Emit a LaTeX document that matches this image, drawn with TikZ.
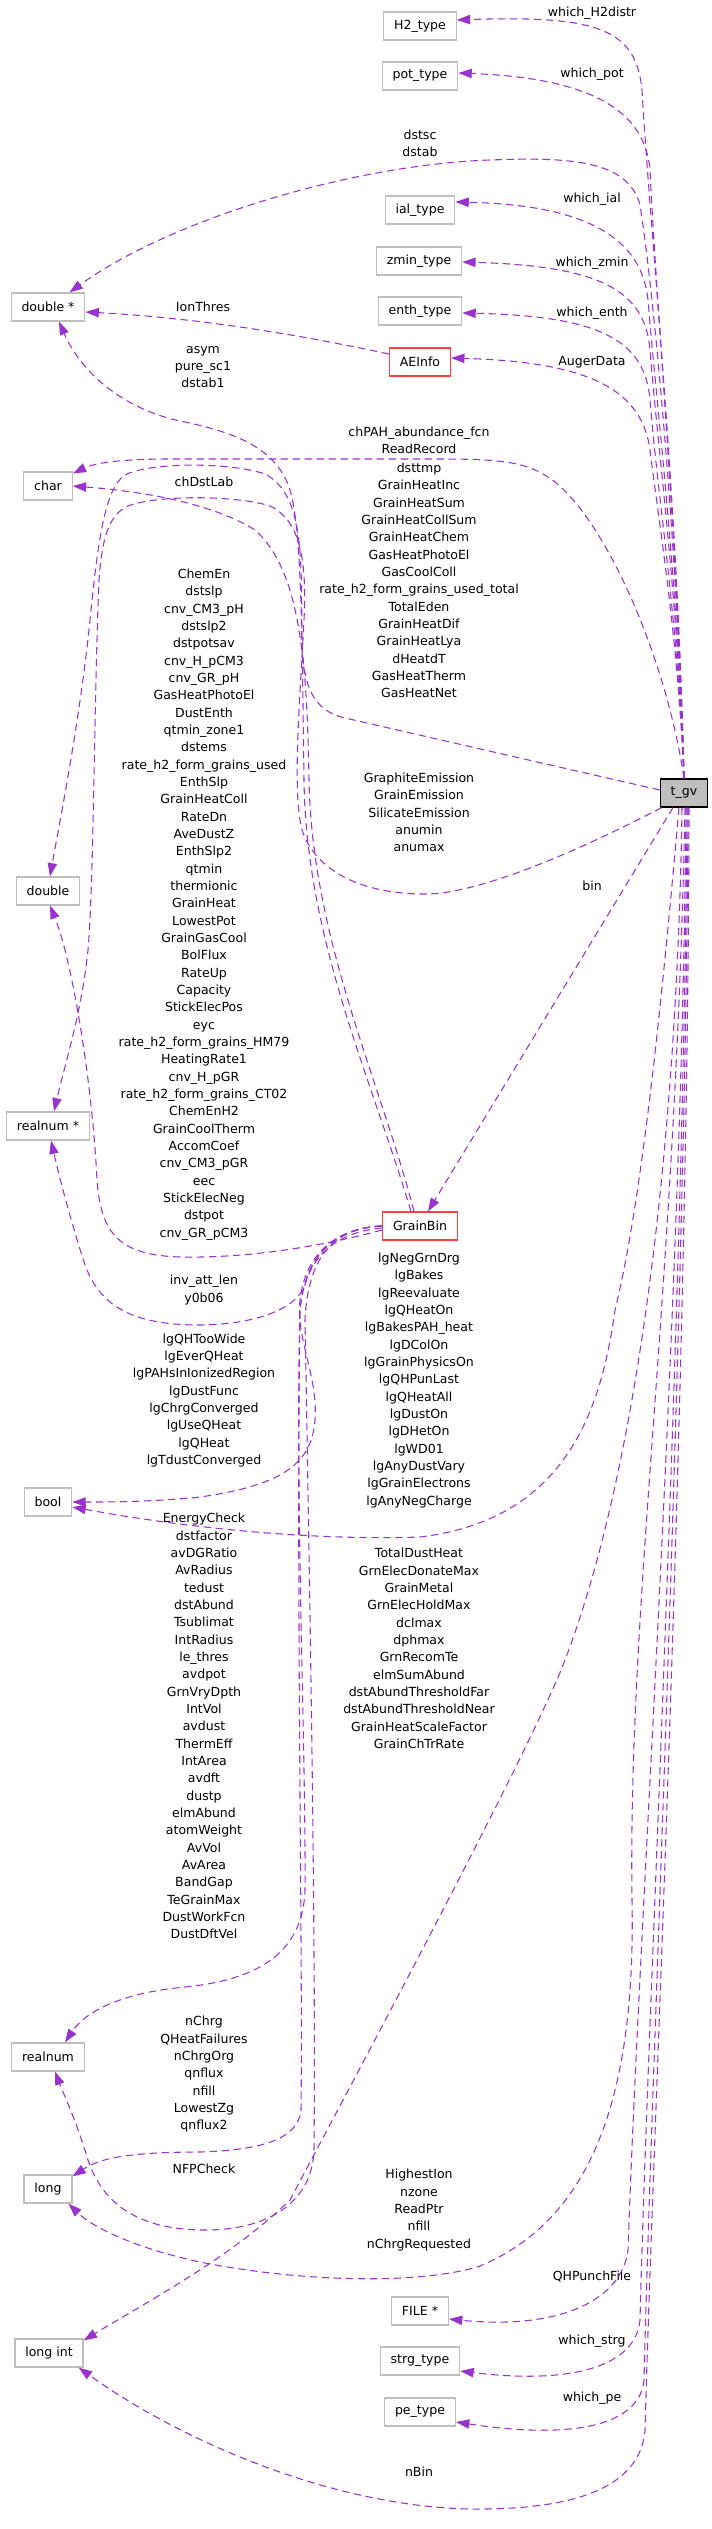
\documentclass[tikz,border=0pt]{standalone}
\usepackage{fontspec}
\setmainfont{DejaVu Sans}
\usetikzlibrary{arrows.meta,calc}
\definecolor{edgec}{HTML}{9A32CD}
\definecolor{boxgray}{HTML}{BFBFBF}
\definecolor{redc}{HTML}{FF3F3F}
\begin{document}
\begin{tikzpicture}[x=0.75pt,y=-0.75pt,
  box/.style={draw=boxgray,line width=0.9pt,minimum height=21pt,inner xsep=7.8pt,inner ysep=0pt,font=\fontsize{9.4}{13}\selectfont,fill=white},
  redbox/.style={box,draw=redc},
  mainbox/.style={box,draw=black,fill=boxgray},
  lab/.style={align=center,inner sep=0pt,font=\fontsize{9.4}{13}\selectfont},
  e/.style={draw=edgec,line width=0.8pt,dash pattern=on 5.5pt off 3.5pt,-{Triangle[length=10pt,width=7pt]}}
]
\fill[white] (0,0) rectangle (712,2529);
\useasboundingbox (0,0) rectangle (712,2529);

% ---------- nodes ----------
\node[box] (h2) at (420,26) {H2\_type};
\node[box] (pot) at (420,76) {pot\_type};
\node[box] (ial) at (420,210) {ial\_type};
\node[box] (zmin) at (419,261) {zmin\_type};
\node[box] (enth) at (420,311) {enth\_type};
\node[redbox] (ae) at (420,362) {AEInfo};
\node[box] (dstar) at (48,307) {double *};
\node[box] (char) at (48,486) {char};
\node[box] (dbl) at (48,891) {double};
\node[box] (rstar) at (48,1126) {realnum *};
\node[mainbox] (tgv) at (684,793) {t\_gv};
\node[redbox] (gb) at (420,1226) {GrainBin};
\node[box] (bool) at (48,1502) {bool};
\node[box] (rl) at (48,2057) {realnum};
\node[box] (lg) at (48,2189) {long};
\node[box] (li) at (49,2353) {long int};
\node[box] (file) at (420,2311) {FILE *};
\node[box] (strg) at (420,2361) {strg\_type};
\node[box] (pe) at (420,2412) {pe\_type};

% ---------- labels ----------
\node[lab] (lh2) at (592,13) {which\_H2distr};
\node[lab] (lpot) at (592,74) {which\_pot};
\node[lab] (ldstsc) at (420,143.5) {dstsc\\dstab};
\node[lab] (lial) at (592,199) {which\_ial};
\node[lab] (lzmin) at (592,263) {which\_zmin};
\node[lab] (lenth) at (592,313) {which\_enth};
\node[lab] (lauger) at (592,362) {AugerData};
\node[lab] (lion) at (203,307) {IonThres};
\node[lab] (lasym) at (203,367) {asym\\pure\_sc1\\dstab1};
\node[lab] (lchpah) at (419,440.5) {chPAH\_abundance\_fcn\\ReadRecord};
\node[lab] (lchdst) at (204,482) {chDstLab};
\node[lab] (ldsttmp) at (419,580.5) {dsttmp\\GrainHeatInc\\GrainHeatSum\\GrainHeatCollSum\\GrainHeatChem\\GasHeatPhotoEl\\GasCoolColl\\rate\_h2\_form\_grains\_used\_total\\TotalEden\\GrainHeatDif\\GrainHeatLya\\dHeatdT\\GasHeatTherm\\GasHeatNet};
\node[lab] (lchemen) at (204,904.5) {ChemEn\\dstslp\\cnv\_CM3\_pH\\dstslp2\\dstpotsav\\cnv\_H\_pCM3\\cnv\_GR\_pH\\GasHeatPhotoEl\\DustEnth\\qtmin\_zone1\\dstems\\rate\_h2\_form\_grains\_used\\EnthSlp\\GrainHeatColl\\RateDn\\AveDustZ\\EnthSlp2\\qtmin\\thermionic\\GrainHeat\\LowestPot\\GrainGasCool\\BolFlux\\RateUp\\Capacity\\StickElecPos\\eyc\\rate\_h2\_form\_grains\_HM79\\HeatingRate1\\cnv\_H\_pGR\\rate\_h2\_form\_grains\_CT02\\ChemEnH2\\GrainCoolTherm\\AccomCoef\\cnv\_CM3\_pGR\\eec\\StickElecNeg\\dstpot\\cnv\_GR\_pCM3};
\node[lab] (lgraph) at (419,812.5) {GraphiteEmission\\GrainEmission\\SilicateEmission\\anumin\\anumax};
\node[lab] (lbin) at (592,886) {bin};
\node[lab] (linv) at (204,1290) {inv\_att\_len\\y0b06};
\node[lab] (llgneg) at (419,1380.5) {lgNegGrnDrg\\lgBakes\\lgReevaluate\\lgQHeatOn\\lgBakesPAH\_heat\\lgDColOn\\lgGrainPhysicsOn\\lgQHPunLast\\lgQHeatAll\\lgDustOn\\lgDHetOn\\lgWD01\\lgAnyDustVary\\lgGrainElectrons\\lgAnyNegCharge};
\node[lab] (llgqh) at (204,1400.5) {lgQHTooWide\\lgEverQHeat\\lgPAHsInIonizedRegion\\lgDustFunc\\lgChrgConverged\\lgUseQHeat\\lgQHeat\\lgTdustConverged};
\node[lab] (lenergy) at (204,1726) {EnergyCheck\\dstfactor\\avDGRatio\\AvRadius\\tedust\\dstAbund\\Tsublimat\\IntRadius\\le\_thres\\avdpot\\GrnVryDpth\\IntVol\\avdust\\ThermEff\\IntArea\\avdft\\dustp\\elmAbund\\atomWeight\\AvVol\\AvArea\\BandGap\\TeGrainMax\\DustWorkFcn\\DustDftVel};
\node[lab] (ltotal) at (419,1648.5) {TotalDustHeat\\GrnElecDonateMax\\GrainMetal\\GrnElecHoldMax\\dclmax\\dphmax\\GrnRecomTe\\elmSumAbund\\dstAbundThresholdFar\\dstAbundThresholdNear\\GrainHeatScaleFactor\\GrainChTrRate};
\node[lab] (lnchrg) at (204,2074.5) {nChrg\\QHeatFailures\\nChrgOrg\\qnflux\\nfill\\LowestZg\\qnflux2};
\node[lab] (lnfp) at (204,2169) {NFPCheck};
\node[lab] (lhigh) at (419,2210) {HighestIon\\nzone\\ReadPtr\\nfill\\nChrgRequested};
\node[lab] (lqhp) at (592,2277) {QHPunchFile};
\node[lab] (lstrg) at (592,2341) {which\_strg};
\node[lab] (lpe) at (592,2398) {which\_pe};
\node[lab] (lnbin) at (419,2472) {nBin};

% ---------- edges from t_gv upwards ----------
\draw[e] (tgv.north) .. controls (678,500) and (650,230) .. (642,90) .. controls (636,30) and (600,15) .. ($(h2.east)+(0,-6)$);
\draw[e] (tgv.north) .. controls (678,550) and (656,300) .. (650,170) .. controls (645,110) and (590,78) .. ($(pot.east)+(0,-3)$);
\draw[e] (tgv.north) .. controls (678,560) and (655,300) .. (640,205) .. controls (628,160) and (570,157) .. (490,160) .. controls (350,165) and (170,220) .. ($(dstar.north east)+(-16,0)$);
\draw[e] (tgv.north) .. controls (678,580) and (656,400) .. (648,300) .. controls (642,240) and (590,205) .. ($(ial.east)+(0,-8)$);
\draw[e] (tgv.north) .. controls (678,600) and (658,450) .. (650,350) .. controls (645,290) and (600,266) .. ($(zmin.east)+(0,1)$);
\draw[e] (tgv.north) .. controls (678,620) and (658,500) .. (650,400) .. controls (645,340) and (600,316) .. ($(enth.east)+(0,2)$);
\draw[e] (tgv.north) .. controls (678,640) and (660,530) .. (650,450) .. controls (642,390) and (590,362) .. ($(ae.east)+(0,-4)$);
\draw[e] ($(ae.west)+(0,-8)$) .. controls (300,335) and (200,318) .. ($(dstar.east)+(0,5)$);
\draw[e] (tgv.north) .. controls (665,650) and (600,510) .. (548,477) .. controls (525,462) and (500,459) .. (440,459) -- (170,459) .. controls (120,459) and (95,463) .. ($(char.north east)+(0,2)$);
\draw[e] ($(tgv.west)+(0,-3)$) -- (345,718) .. controls (315,711) and (303,690) .. (302,640) .. controls (301,560) and (305,495) .. (265,474) .. controls (230,462) and (150,462) .. (125,475) .. controls (105,488) and (98,540) .. (90,620) .. controls (80,720) and (60,820) .. ($(dbl.north)+(2,0)$);
\draw[e] ($(tgv.south west)+(2,0)$) .. controls (580,850) and (480,894) .. (425,894) .. controls (360,894) and (315,870) .. (302,830) .. controls (292,790) and (300,700) .. (304,620) .. controls (307,560) and (300,520) .. (270,506) .. controls (240,496) and (160,494) .. (128,506) .. controls (108,515) and (102,540) .. (99,580) .. controls (94,700) and (94,880) .. (88,950) .. controls (82,1010) and (66,1060) .. ($(rstar.north)+(6,0)$);
\draw[e] ($(tgv.south)+(-11,0)$) -- ($(gb.north)+(8,0)$);

% ---------- edges from GrainBin ----------
\draw[e] ($(gb.north)+(-6,0)$) .. controls (380,1080) and (312,940) .. (309,780) .. controls (307,660) and (300,570) .. (255,530) .. controls (215,505) and (150,492) .. (char.east);
\draw[e] ($(gb.north)+(-9,0)$) .. controls (372,1080) and (306,940) .. (304,780) .. controls (302,640) and (302,530) .. (290,490) .. controls (277,450) and (240,433) .. (180,421) .. controls (120,408) and (80,370) .. ($(dstar.south)+(11,0)$);
\draw[e] ($(gb.west)+(0,4)$) .. controls (300,1252) and (230,1258) .. (180,1257) .. controls (120,1255) and (101,1235) .. (97,1180) .. controls (92,1080) and (72,960) .. ($(dbl.south)+(2,0)$);
\draw[e] ($(gb.west)+(0,2)$) .. controls (335,1232) and (312,1258) .. (305,1285) .. controls (298,1305) and (265,1324) .. (200,1325) .. controls (130,1325) and (100,1305) .. (85,1265) .. controls (72,1225) and (60,1180) .. ($(rstar.south)+(3,0)$);
\draw[e] (gb.west) .. controls (335,1228) and (305,1255) .. (300,1300) .. controls (296,1340) and (318,1375) .. (315,1420) .. controls (312,1462) and (285,1485) .. (200,1497) .. controls (150,1502) and (110,1502) .. (bool.east);
\draw[e] (gb.west) .. controls (335,1228) and (305,1255) .. (300,1310) .. controls (295,1500) and (306,1750) .. (305,1890) .. controls (303,1955) and (255,1980) .. (185,1987) .. controls (120,1993) and (85,2012) .. ($(rl.north)+(17,0)$);
\draw[e] (gb.west) .. controls (335,1228) and (305,1255) .. (300,1310) .. controls (296,1600) and (303,1950) .. (301,2110) .. controls (298,2140) and (260,2150) .. (200,2152) .. controls (130,2152) and (100,2158) .. ($(lg.north east)+(0,2)$);
\draw[e] (gb.west) .. controls (335,1228) and (308,1255) .. (305,1320) .. controls (310,1600) and (316,1950) .. (314,2150) .. controls (312,2205) and (265,2230) .. (205,2230) .. controls (140,2230) and (103,2205) .. (88,2160) .. controls (76,2120) and (64,2095) .. ($(rl.south)+(7,0)$);

% ---------- edges from t_gv downwards ----------
\draw[e] ($(tgv.south)+(-5,0)$) .. controls (662,1000) and (642,1200) .. (615,1310) .. controls (600,1420) and (560,1520) .. (420,1537) .. controls (300,1541) and (170,1525) .. ($(bool.east)+(0,5)$);
\draw[e] ($(tgv.south)+(-2,0)$) .. controls (678,1100) and (645,1450) .. (565,1660) .. controls (530,1752) and (340,2105) .. (290,2200) .. controls (230,2258) and (150,2300) .. ($(li.north east)+(0,2)$);
\draw[e] ($(tgv.south)+(1,0)$) .. controls (675,1300) and (628,1600) .. (632,1900) .. controls (636,2100) and (590,2220) .. (480,2266) .. controls (420,2285) and (300,2282) .. (200,2262) .. controls (130,2247) and (90,2225) .. ($(lg.south east)+(-4,0)$);
\draw[e] ($(tgv.south)+(2,0)$) .. controls (682,1300) and (640,1900) .. (628,2250) .. controls (622,2300) and (560,2330) .. ($(file.east)+(0,8)$);
\draw[e] ($(tgv.south)+(3,0)$) .. controls (684,1300) and (648,2000) .. (640,2320) .. controls (636,2365) and (575,2385) .. ($(strg.east)+(0,10)$);
\draw[e] ($(tgv.south)+(4,0)$) .. controls (686,1300) and (652,2050) .. (644,2380) .. controls (640,2425) and (575,2440) .. ($(pe.east)+(0,10)$);
\draw[e] ($(tgv.south)+(5,0)$) .. controls (688,1400) and (654,2100) .. (645,2430) .. controls (640,2490) and (570,2510) .. (470,2509) .. controls (330,2506) and (180,2440) .. ($(li.south east)+(-5,0)$);
\end{tikzpicture}
\end{document}
